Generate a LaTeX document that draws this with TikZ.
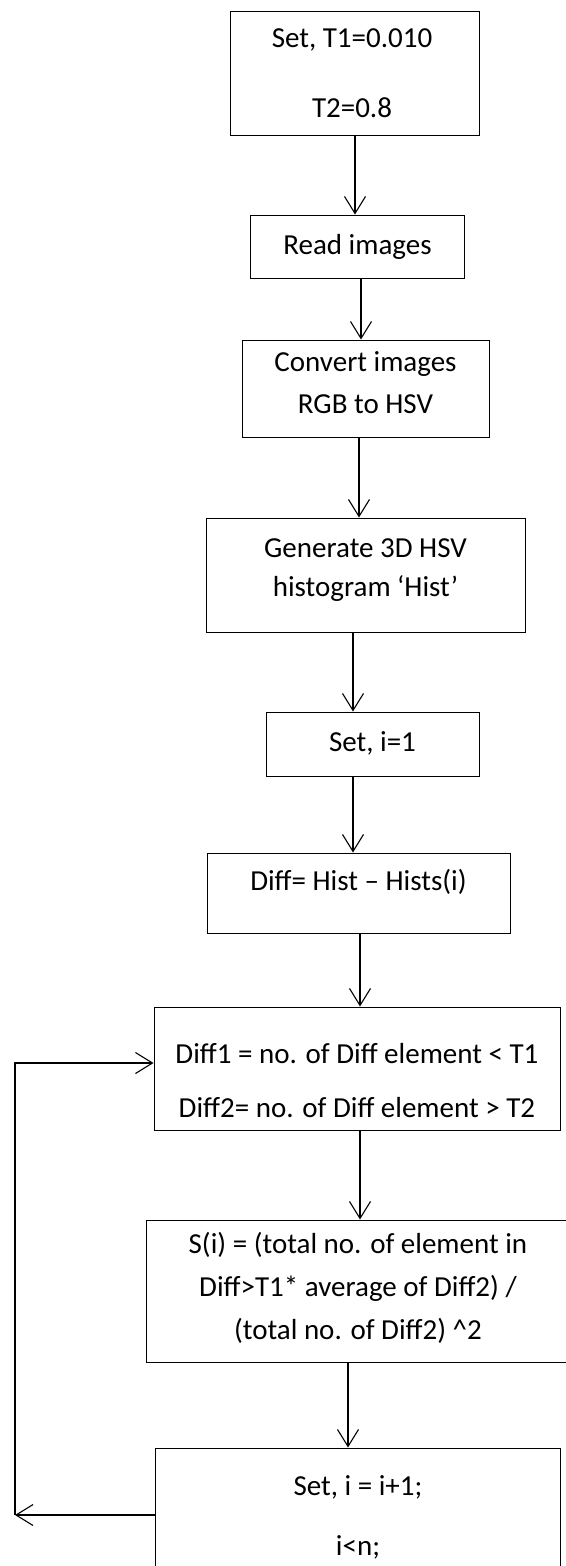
\documentclass[tikz,border=0pt]{standalone}
\usepackage{fontspec}
\setmainfont{Carlito}
\usetikzlibrary{arrows.meta}
\begin{document}
\begin{tikzpicture}[x=1pt,y=-1pt,
  box/.style={draw, line width=1pt, inner sep=0pt},
  txt/.style={font=\fontsize{29}{34}\selectfont, inner sep=0pt, anchor=center},
  arr/.style={line width=1.1pt, -{Straight Barb[length=17pt,width=21pt,line width=1.1pt]}}]
\useasboundingbox (0,0) rectangle (565,1566);
\fill[white] (0,0) rectangle (565,1566);
% boxes
\node[box, minimum width=249pt, minimum height=124pt] (b1) at (354.5,73) {};
\node[box, minimum width=214pt, minimum height=63pt] (b2) at (357.5,246.5) {};
\node[box, minimum width=247pt, minimum height=97pt] (b3) at (365.5,388.5) {};
\node[box, minimum width=319pt, minimum height=114pt] (b4) at (365.5,575) {};
\node[box, minimum width=213pt, minimum height=64pt] (b5) at (372.5,744) {};
\node[box, minimum width=303pt, minimum height=80pt] (b6) at (358.5,893) {};
\node[box, minimum width=406pt, minimum height=123pt] (b7) at (357,1068.5) {};
\node[box, minimum width=424pt, minimum height=142pt] (b8) at (358,1291) {};
\node[box, minimum width=405pt, minimum height=140pt] (b9) at (357.5,1518) {};
% texts
\node[txt] (t1a) at (352,40) {Set, T1=0.010};
\node[txt] (t1b) at (352,108) {T2=0.8};
\node[txt] (t2) at (357.5,247) {Read images};
\node[txt] (t3a) at (365.5,364) {Convert images};
\node[txt] (t3b) at (365.5,404) {RGB to HSV};
\node[txt] (t4a) at (365.5,548) {Generate 3D HSV};
\node[txt] (t4b) at (365.5,589) {histogram ‘Hist’};
\node[txt] (t5) at (372.5,743) {Set, i=1};
\node[txt] (t6) at (358.5,882) {Diff= Hist – Hists(i)};
\node[txt] (t7a) at (357,1054) {Diff1 = no. of Diff element < T1};
\node[txt] (t7b) at (357,1108) {Diff2= no. of Diff element > T2};
\node[txt] (t8a) at (358,1245) {S(i) = (total no. of element in};
\node[txt] (t8b) at (358,1288) {Diff>T1* average of Diff2) /};
\node[txt] (t8c) at (358,1331) {(total no. of Diff2) \^{}2};
\node[txt] (t9a) at (358,1487) {Set, i = i+1;};
\node[txt] (t9b) at (358,1547) {i<n;};
% connectors
\draw[arr] (b1.south -| 355,0) -- (b2.north -| 355,0);
\draw[arr] (b2.south -| 361,0) -- (b3.north -| 361,0);
\draw[arr] (b3.south -| 359,0) -- (b4.north -| 359,0);
\draw[arr] (b4.south -| 353,0) -- (b5.north -| 353,0);
\draw[arr] (b5.south -| 353,0) -- (b6.north -| 353,0);
\draw[arr] (b6.south -| 360,0) -- (b7.north -| 360,0);
\draw[arr] (b7.south -| 360,0) -- (b8.north -| 360,0);
\draw[arr] (b8.south -| 348,0) -- (b9.north -| 348,0);
\coordinate (lb) at (15,1515);
\coordinate (lt) at (15,1063);
\draw[arr] (b9.west |- lb) -- (lb);
\draw[arr] (lb) -- (lt) -- (b7.west |- lt);
\end{tikzpicture}
\end{document}
